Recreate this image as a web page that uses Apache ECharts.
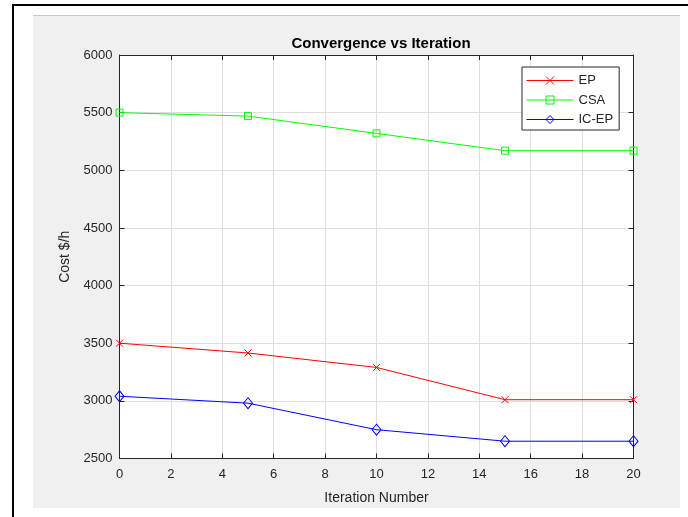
<!DOCTYPE html>
<html>
<head>
<meta charset="utf-8">
<script src="https://cdn.jsdelivr.net/npm/echarts@6/dist/echarts.min.js"></script>
<style>
  html, body { margin: 0; padding: 0; background: #fff; }
</style>
</head>
<body>
<div id="main" style="width: 688px;height:517px;"></div>
<script type="text/javascript">
    // data
    var iterations = [0, 5, 10, 15, 20];
    var epCost = [3500, 3415, 3290, 3010, 3010];
    var csaCost = [5500, 5470, 5320, 5170, 5170];
    var icepCost = [3040, 2980, 2750, 2650, 2650];
    var seriesNames = ['EP', 'CSA', 'IC-EP'];

    function pairs(ys) {
        return iterations.map(function (x, i) { return [x, ys[i]]; });
    }

    var font = '"Liberation Sans", Arial, sans-serif';
    var axisColor = '#262626';
    var gridColor = '#dfdfdf';

    function makeSeries(name, ys, color, symbol, size) {
        return {
            name: name,
            type: 'line',
            data: pairs(ys),
            symbol: symbol,
            symbolSize: size,
            showAllSymbol: true,
            lineStyle: { color: color, width: 1 },
            itemStyle: { color: 'rgba(0,0,0,0)', borderColor: color, borderWidth: 1 },
            emphasis: { disabled: true },
            animation: false
        };
    }

    var plainNum = function (v) { return String(v); };
    // matlab style: ticks point into the box, axis lines stay on the box edges
    var inTick = { show: true, inside: true, length: 5, lineStyle: { color: axisColor } };
    var boxLine = { show: true, onZero: false, lineStyle: { color: axisColor, width: 1 } };

    var myChart = echarts.init(document.getElementById('main'));
    var option = {
        backgroundColor: '#ffffff',
        textStyle: { fontFamily: font },
        graphic: [
            { type: 'rect', z: -10, shape: { x: 33, y: 15, width: 647, height: 493 }, style: { fill: '#f0f0f0' } },
            { type: 'rect', z: -9, shape: { x: 33, y: 15, width: 647, height: 1 }, style: { fill: '#c8c8c8' } },
            { type: 'rect', z: -9, shape: { x: 12, y: 4, width: 676, height: 2 }, style: { fill: '#000' } },
            { type: 'rect', z: -9, shape: { x: 12, y: 4, width: 2, height: 513 }, style: { fill: '#000' } }
        ],
        title: {
            text: 'Convergence vs Iteration',
            left: 376,
            top: 31,
            textAlign: 'center',
            textStyle: { fontFamily: font, fontSize: 15, fontWeight: 'bold', color: '#000' }
        },
        legend: {
            data: seriesNames,
            orient: 'vertical',
            left: 522,
            top: 67,
            itemWidth: 47,
            itemHeight: 10,
            itemGap: 6.5,
            padding: [7, 6, 4, 4],
            backgroundColor: '#ffffff',
            borderColor: axisColor,
            borderWidth: 1,
            borderRadius: 0,
            selectedMode: false,
            lineStyle: { width: 1 },
            itemStyle: { borderWidth: 1 },
            textStyle: { fontFamily: font, fontSize: 13, color: axisColor }
        },
        grid: {
            left: 119.5,
            top: 55,
            right: 54.5,
            bottom: 58.5,
            show: true,
            backgroundColor: '#ffffff',
            borderWidth: 0
        },
        xAxis: [{
            type: 'value',
            min: 0,
            max: 20,
            interval: 2,
            name: 'Iteration Number',
            nameLocation: 'middle',
            nameGap: 33,
            nameTextStyle: { fontFamily: font, fontSize: 14, color: axisColor },
            axisLine: boxLine,
            axisTick: inTick,
            axisLabel: { fontFamily: font, fontSize: 13, color: axisColor, margin: 9, formatter: plainNum },
            splitLine: { show: true, lineStyle: { color: gridColor, width: 1 } }
        }, {
            type: 'value',
            position: 'top',
            min: 0,
            max: 20,
            interval: 2,
            axisLine: boxLine,
            axisTick: inTick,
            axisLabel: { show: false },
            splitLine: { show: false }
        }],
        yAxis: [{
            type: 'value',
            min: 2500,
            max: 6000,
            interval: 500,
            name: 'Cost $/h',
            nameLocation: 'middle',
            nameGap: 47,
            nameTextStyle: { fontFamily: font, fontSize: 14, color: axisColor },
            axisLine: boxLine,
            axisTick: inTick,
            axisLabel: { fontFamily: font, fontSize: 13, color: axisColor, margin: 7, formatter: plainNum },
            splitLine: { show: true, lineStyle: { color: gridColor, width: 1 } }
        }, {
            type: 'value',
            position: 'right',
            min: 2500,
            max: 6000,
            interval: 500,
            axisLine: boxLine,
            axisTick: inTick,
            axisLabel: { show: false },
            splitLine: { show: false }
        }],
        series: [
            makeSeries('EP', epCost, '#ff0000', 'path://M0,0L10,10M0,10L10,0', 7),
            makeSeries('CSA', csaCost, '#00ff00', 'rect', 7),
            makeSeries('IC-EP', icepCost, '#0000ff', 'diamond', [9, 11])
        ]
    };

    myChart.setOption(option);
</script>
</body>
</html>
